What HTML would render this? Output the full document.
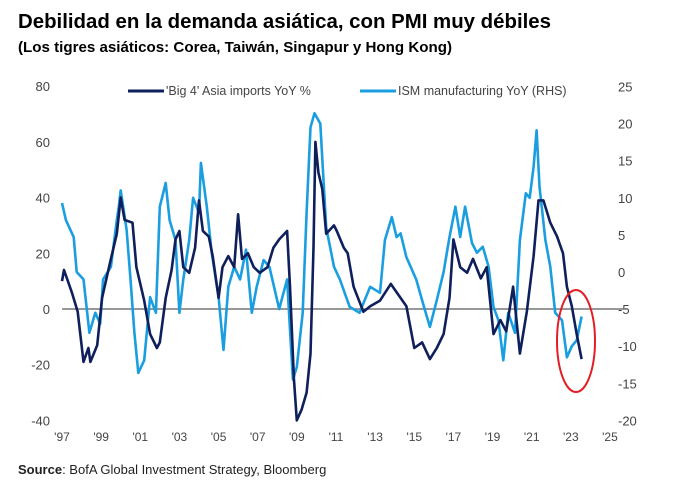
<!DOCTYPE html>
<html><head><meta charset="utf-8"><style>
body{margin:0;background:#fff;}
svg{display:block;font-family:"Liberation Sans",sans-serif;}
</style></head><body>
<svg id="chart" width="679" height="491" viewBox="0 0 679 491">
<text x="18" y="28" font-size="20" font-weight="bold" fill="#000" textLength="533" lengthAdjust="spacingAndGlyphs">Debilidad en la demanda asiática, con PMI muy débiles</text>
<text x="18" y="52" font-size="15" font-weight="bold" fill="#000" textLength="434" lengthAdjust="spacingAndGlyphs">(Los tigres asiáticos: Corea, Taiwán, Singapur y Hong Kong)</text>
<g id="lefty"></g>
<g id="righty"></g>
<g id="xaxis"></g>
<line x1="62" x2="628" y1="309" y2="309" stroke="#777" stroke-width="1.5"/>
<g id="series"></g>
<ellipse cx="576" cy="341" rx="19" ry="51" fill="none" stroke="#e41e26" stroke-width="2"/>
<g>
<line x1="128" x2="164" y1="91" y2="91" stroke="#0f1f5c" stroke-width="3"/>
<text x="166" y="95" font-size="12.5" fill="#444">'Big 4' Asia imports YoY %</text>
<line x1="360" x2="396" y1="91" y2="91" stroke="#1a9ee0" stroke-width="3"/>
<text x="398" y="95" font-size="12.5" fill="#444">ISM manufacturing YoY (RHS)</text>
</g>
<text x="18" y="474" font-size="13" fill="#222"><tspan font-weight="bold">Source</tspan>:  BofA Global Investment Strategy, Bloomberg</text>
</svg>
<script>
const leftTicks=[80,60,40,20,0,-20,-40];
const rightTicks=[25,20,15,10,5,0,-5,-10,-15,-20];
const xTickLabels=["'97","'99","'01","'03","'05","'07","'09","'11","'13","'15","'17","'19","'21","'23","'25"];
const xTickYears=[1997,1999,2001,2003,2005,2007,2009,2011,2013,2015,2017,2019,2021,2023,2025];
const big4Years=[1997.0,1997.1,1997.5,1997.8,1998.1,1998.35,1998.45,1998.8,1999.05,1999.5,1999.8,2000.0,2000.2,2000.6,2000.8,2001.2,2001.5,2001.85,2002.0,2002.3,2002.6,2002.8,2003.0,2003.2,2003.5,2003.8,2004.0,2004.2,2004.5,2004.7,2005.0,2005.2,2005.5,2005.8,2006.0,2006.2,2006.5,2006.8,2007.1,2007.5,2007.8,2008.1,2008.5,2008.65,2008.85,2009.0,2009.25,2009.5,2009.7,2009.85,2009.95,2010.1,2010.3,2010.5,2010.9,2011.04,2011.4,2011.6,2011.9,2012.4,2012.75,2013.25,2013.8,2014.1,2014.6,2015.0,2015.4,2015.8,2016.15,2016.5,2016.8,2017.0,2017.35,2017.7,2018.0,2018.4,2018.7,2019.05,2019.4,2019.7,2020.05,2020.4,2020.75,2021.1,2021.35,2021.6,2021.95,2022.3,2022.6,2022.8,2023.05,2023.3,2023.55];
const big4Values=[10,14,6,-1,-19,-14,-19,-13,4,18,27,40,32,31,15,3,-9,-14,-12,4,14,25,28,15,13,22,39,28,26,19,4,15,19,15,34,18,20,15,13,15,22,25,28,8,-25,-40,-36,-30,-16,22,60,49,43,27,30,28,22,20,8,-1,1,3,9,6,1,-14,-12,-18,-14,-9,4,25,15,13,18,11,15,-9,-4,-8,8,-16,-1,19,39,39,31,26,20,8,1,-9,-18];
const ismYears=[1997.0,1997.2,1997.6,1997.75,1998.1,1998.4,1998.7,1998.95,1999.1,1999.5,1999.8,1999.9,2000.0,2000.3,2000.5,2000.7,2000.9,2001.2,2001.5,2001.8,2002.0,2002.3,2002.5,2002.8,2003.0,2003.2,2003.5,2003.7,2004.0,2004.1,2004.4,2004.65,2005.0,2005.25,2005.5,2005.8,2006.1,2006.4,2006.7,2006.95,2007.3,2007.6,2008.1,2008.5,2008.8,2009.0,2009.3,2009.5,2009.7,2009.9,2010.2,2010.5,2010.9,2011.2,2011.7,2012.2,2012.75,2013.25,2013.5,2013.85,2014.1,2014.3,2014.6,2015.1,2015.5,2015.8,2016.15,2016.5,2016.8,2017.1,2017.35,2017.6,2017.95,2018.2,2018.5,2018.8,2019.05,2019.3,2019.55,2019.8,2020.15,2020.4,2020.7,2020.9,2021.1,2021.25,2021.4,2021.7,2021.95,2022.2,2022.55,2022.8,2023.05,2023.3,2023.55];
const ismValues=[9.3,7,4.7,0,-1,-8.2,-5.5,-7,-1,0.7,7,8.8,11,5.7,-1,-8.2,-13.6,-11.9,-3.4,-5.5,8.8,12,7,4.3,-5.5,-1,4.3,10,8,14.7,8.8,2.6,-3.4,-10.5,-2,0.7,-1,3,-5.5,-2,1.6,0.7,-5,-1,-14.5,-12.8,-5.5,8,19.5,21.4,20,6,0.7,-1,-4.7,-5.5,-2,-2.8,4.3,7.4,4.7,5.2,2,-1,-4.7,-7.4,-3.8,0,4.7,8.8,4.7,8.8,3.9,2.6,3.4,0.7,-4.7,-6.5,-11.9,-5.5,-8.2,4.3,10.6,10,14.2,19.1,11.5,4.3,0.7,-5.5,-6.5,-11.5,-10,-9.2,-6];

const NS="http://www.w3.org/2000/svg";
const X=yr=>62+(yr-1997)*19.57;
const YL=v=>309-v*2.785;
const YR=v=>272-v*7.42;
function mk(tag,attrs,parent,txt){const e=document.createElementNS(NS,tag);for(const k in attrs)e.setAttribute(k,attrs[k]);if(txt!==undefined)e.textContent=txt;parent.appendChild(e);return e;}
const ly=document.getElementById('lefty'),ry=document.getElementById('righty'),xa=document.getElementById('xaxis'),sg=document.getElementById('series');
leftTicks.forEach(v=>{const t=mk('text',{x:50,y:YL(v)+5,'font-size':13,fill:'#444','text-anchor':'end'},ly,String(v));

});
rightTicks.forEach(v=>{const t=mk('text',{x:618,y:YR(v)+5,'font-size':13,fill:'#444'},ry,String(v));

});
xTickLabels.forEach((l,i)=>{const t=mk('text',{x:X(xTickYears[i]),y:441,'font-size':12,fill:'#444','text-anchor':'middle'},xa,l);

});
const dI=ismYears.map((y,i)=>(i?'L':'M')+X(y).toFixed(1)+' '+YR(ismValues[i]).toFixed(1)).join(' ');
const pI=mk('path',{d:dI,fill:'none',stroke:'#1a9ee0','stroke-width':2.6,'stroke-linejoin':'round'},sg);


const dB=big4Years.map((y,i)=>(i?'L':'M')+X(y).toFixed(1)+' '+YL(big4Values[i]).toFixed(1)).join(' ');
const pB=mk('path',{d:dB,fill:'none',stroke:'#0f1f5c','stroke-width':2.6,'stroke-linejoin':'round'},sg);


</script>
</body></html>
